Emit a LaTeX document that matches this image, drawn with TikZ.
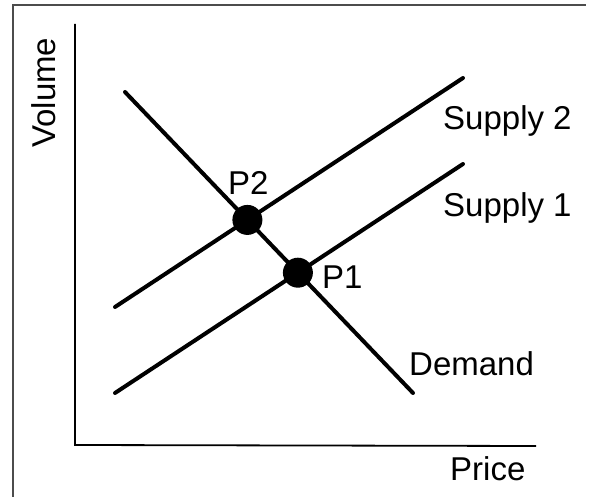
\documentclass[tikz,border=0pt]{standalone}
\usepackage{fontspec}
\setmainfont{Liberation Sans}
\usepackage{tikz}
\usetikzlibrary{positioning, calc}
\definecolor{framegray}{rgb}{0.3, 0.3, 0.3}

\begin{document}
\begin{tikzpicture}[
    x=1pt, y=-1pt,
    curve/.style={line width=4pt, line cap=round, color=black},
    axis/.style={line width=1.8pt, color=black},
    eqpoint/.style={circle, fill=black, inner sep=0pt, minimum size=30pt},
    lbl/.style={font=\fontsize{33}{40}\selectfont, inner sep=0pt, anchor=base west},
]
\useasboundingbox (0,0) rectangle (590,497);

% Frame
\draw[framegray, line width=1.5pt] (13,497) -- (13,5) -- (586,5);

% Axes
\coordinate (origin) at (75,445);
\coordinate (ytop) at (75,24);
\coordinate (xend) at (536,446);
\draw[axis] (ytop) -- (origin) -- (xend);

% Curves
\coordinate (d1) at (125,92);
\coordinate (d2) at (413,393);
\coordinate (s2a) at (115,307);
\coordinate (s2b) at (463,78);
\coordinate (s1a) at (115,393);
\coordinate (s1b) at (463,164);
\draw[curve] (d1) -- (d2);
\draw[curve] (s2a) -- (s2b);
\draw[curve] (s1a) -- (s1b);

% Equilibrium points
\node[eqpoint] (p2) at (intersection of d1--d2 and s2a--s2b) {};
\node[eqpoint] (p1) at (intersection of d1--d2 and s1a--s1b) {};

% Labels
\node[lbl] (supply2) at (443,130) {Supply 2};
\node[lbl] (supply1) at (443,217) {Supply 1};
\node[lbl] (demand) at (409,376) {Demand};
\node[lbl] (p2lbl) at (228,195) {P2};
\node[lbl] (p1lbl) at (322,289) {P1};
\node[lbl] (price) at (450,481) {Price};
\node[lbl, rotate=90] (volume) at (55,148) {Volume};
\end{tikzpicture}
\end{document}
